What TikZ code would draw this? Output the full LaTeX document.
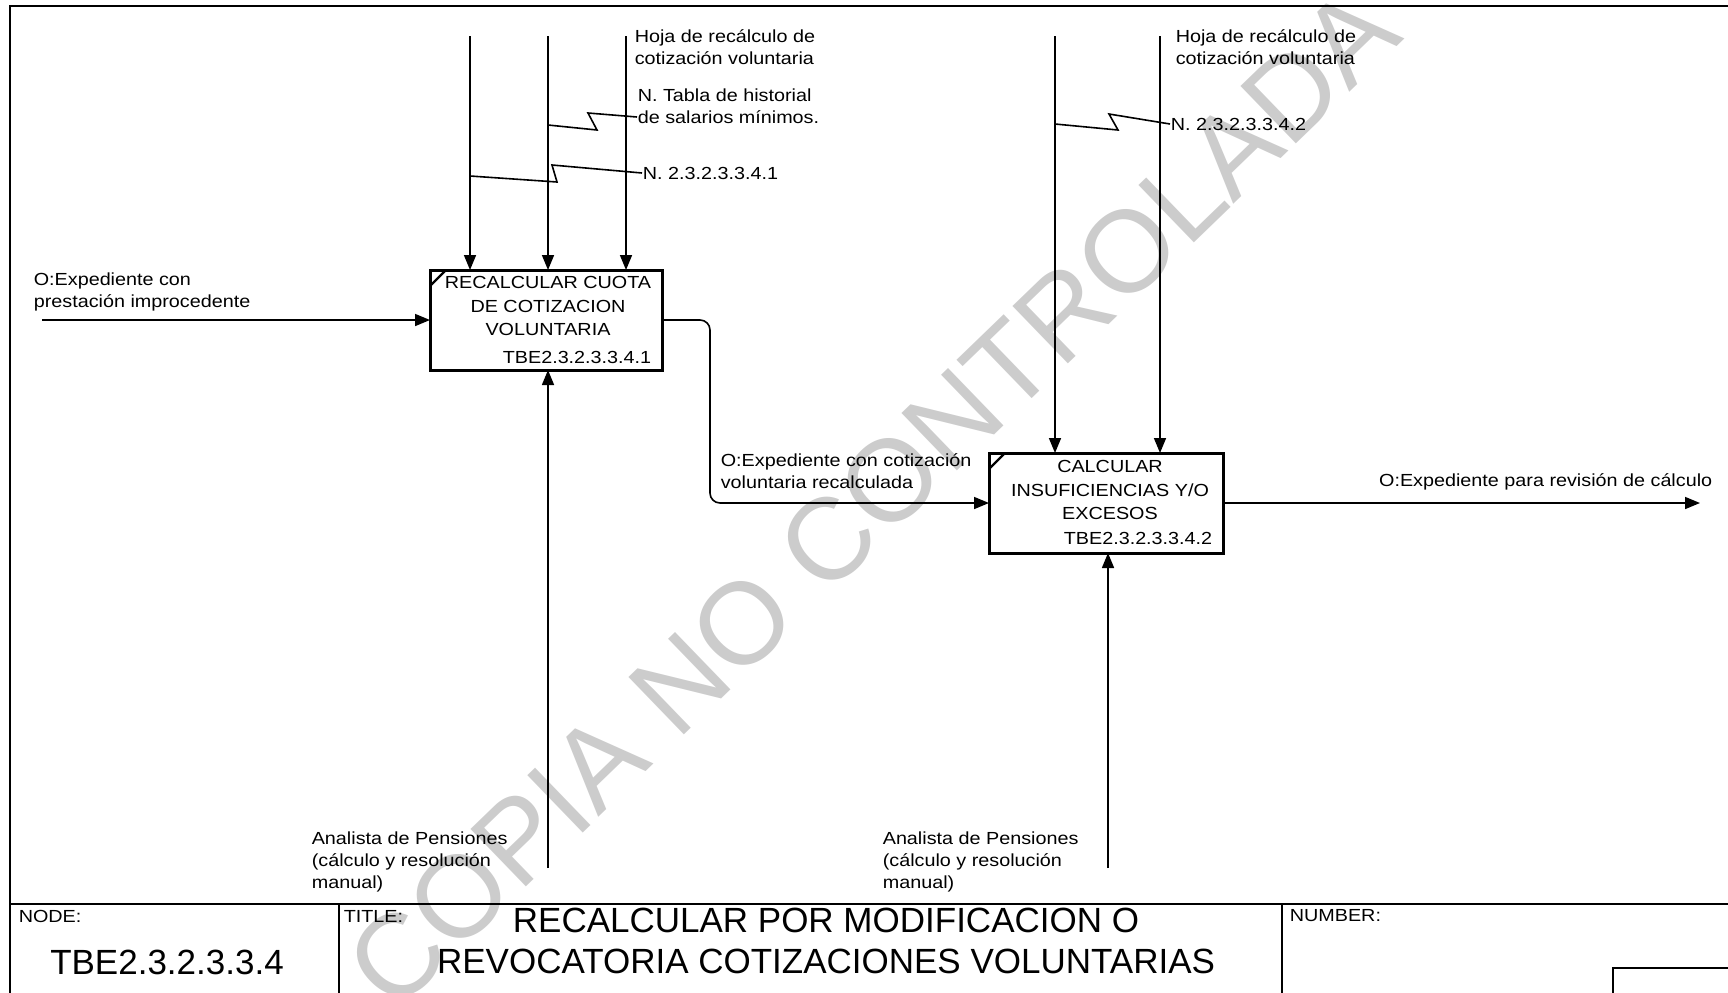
\documentclass[tikz,border=0pt]{standalone}
\usepackage{fontspec}
\setmainfont{Liberation Sans}
\newfontfamily\idef{Liberation Sans}[FakeStretch=1.13]
\usetikzlibrary{arrows.meta}

\begin{document}
\begin{tikzpicture}[x=0.5pt,y=-0.5pt,line width=0.8pt,>={Triangle[length=7.5pt,width=6pt]}]
  \tikzstyle{actbox}=[draw,line width=1.5pt,minimum height=50pt,inner sep=0pt,outer sep=0pt]
  \tikzstyle{lbl}=[inner sep=0pt,align=left,anchor=west,font=\idef\fontsize{8.75}{11}\selectfont]
  \tikzstyle{boxtxt}=[inner sep=0pt,align=center,font=\idef\fontsize{8.75}{11.75}\selectfont]
  \tikzstyle{big}=[inner sep=0pt,align=center,font=\fontsize{17.5}{20.5}\selectfont]
  \useasboundingbox (0,0) rectangle (1728,992);
  \clip (0,0) rectangle (1728,992);
  % watermark
  \node[rotate=44,text=black!20,font=\fontsize{58}{58}\selectfont] (wm) at (872,498) {COPIA NO CONTROLADA};
  % frame and title block
  \draw[line width=1pt] (10,6) rectangle (1760,1020);
  \draw[line width=1pt] (10,904) -- (1760,904) (339,904) -- (339,1020) (1282,904) -- (1282,1020);
  \draw (1613,968) rectangle (1760,1020);
  \node[lbl] (nodelbl) at (18,916) {NODE:};
  \node[lbl] (titlelbl) at (343,916) {TITLE:};
  \node[lbl] (numlbl) at (1289,916) {NUMBER:};
  \node[big] (nodenum) at (167,962) {TBE2.3.2.3.3.4};
  \node[big] (title) at (826,941) {RECALCULAR POR MODIFICACION O\\REVOCATORIA COTIZACIONES VOLUNTARIAS};
  % activities
  \node[actbox,minimum width=116pt] (r1) at (546,320) {};
  \node[boxtxt] (r1t) at (548,306) {RECALCULAR CUOTA\\DE COTIZACION\\VOLUNTARIA};
  \node[boxtxt,anchor=east] (r1n) at (652,357) {TBE2.3.2.3.3.4.1};
  \draw[line width=1.2pt] ([yshift=-8pt]r1.north west) -- ([xshift=8pt]r1.north west);
  \node[actbox,minimum width=117pt] (r2) at (1106,503) {};
  \node[boxtxt] (r2t) at (1110,490) {CALCULAR\\INSUFICIENCIAS Y/O\\EXCESOS};
  \node[boxtxt,anchor=east] (r2n) at (1213,538) {TBE2.3.2.3.3.4.2};
  \draw[line width=1.2pt] ([yshift=-8pt]r2.north west) -- ([xshift=8pt]r2.north west);
  % labels
  \node[lbl] (hoja1) at (634,47) {Hoja de recálculo de\\cotización voluntaria};
  \node[lbl] (tabla) at (637,106) {N. Tabla de historial\\de salarios mínimos.};
  \node[lbl] (norma1) at (642,173) {N. 2.3.2.3.3.4.1};
  \node[lbl] (hoja2) at (1175,47) {Hoja de recálculo de\\cotización voluntaria};
  \node[lbl] (norma2) at (1170,124) {N. 2.3.2.3.3.4.2};
  \node[lbl] (entrada) at (33,292) {O:Expediente con\\prestación improcedente};
  \node[lbl] (recalc) at (720,471) {O:Expediente con cotización\\voluntaria recalculada};
  \node[lbl,anchor=east] (salida) at (1713,482) {O:Expediente para revisión de cálculo};
  \node[lbl] (anal1) at (311,862) {Analista de Pensiones\\(cálculo y resolución\\manual)};
  \node[lbl] (anal2) at (882,862) {Analista de Pensiones\\(cálculo y resolución\\manual)};
  % controls
  \coordinate (c11) at (470,36);
  \coordinate (c12) at (548,36);
  \coordinate (c13) at (626,36);
  \coordinate (c21) at (1055,36);
  \coordinate (c22) at (1160,36);
  \draw[->] (c11) -- (c11 |- r1.north);
  \draw[->] (c12) -- (c12 |- r1.north);
  \draw[->] (c13) -- (c13 |- r1.north);
  \draw[->] (c21) -- (c21 |- r2.north);
  \draw[->] (c22) -- (c22 |- r2.north);
  % squiggles
  \draw (c12 |- 0,125) -- ++(49,5) -- ++(-9,-17) -- (tabla.west |- 0,117);
  \draw (c11 |- 0,176) -- ++(87,6) -- ++(-5,-17) -- (norma1.west);
  \draw (c21 |- 0,124) -- ++(63,6) -- ++(-9,-16) -- (norma2.west);
  % inputs, outputs, mechanisms
  \coordinate (in1) at (42,320);
  \coordinate (out2) at (1700,503);
  \coordinate (m1) at (548,868);
  \coordinate (m2) at (1108,868);
  \draw[->] (in1) -- (r1.west);
  \draw[->,rounded corners=5pt] (r1.east) -- ++(48,0) |- (r2.west);
  \draw[->] (r2.east) -- (out2);
  \draw[->] (m1) -- (m1 |- r1.south);
  \draw[->] (m2) -- (m2 |- r2.south);
\end{tikzpicture}
\end{document}
